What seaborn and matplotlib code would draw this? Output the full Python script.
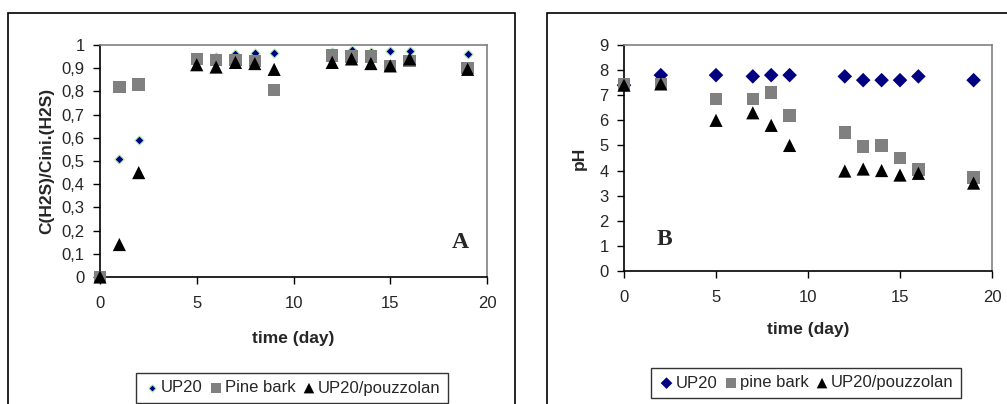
import matplotlib
matplotlib.use("Agg")
import matplotlib.pyplot as plt
import seaborn as sns
import pandas as pd
from matplotlib.patches import Rectangle
from matplotlib.ticker import FuncFormatter, MultipleLocator

sns.set_style("white")
plt.rcParams['font.family'] = ['Liberation Sans', 'DejaVu Sans']

# ---- Data panel A ----
time_a = [0, 1, 2, 5, 6, 7, 8, 9, 12, 13, 14, 15, 16, 19]
up20_a = [0, 0.51, 0.59, 0.94, 0.95, 0.96, 0.965, 0.965, 0.97, 0.98, 0.97, 0.975, 0.975, 0.96]
pine_a = [0, 0.82, 0.83, 0.94, 0.935, 0.935, 0.93, 0.805, 0.955, 0.95, 0.95, 0.91, 0.93, 0.90]
pouz_a = [0, 0.14, 0.45, 0.915, 0.905, 0.925, 0.92, 0.895, 0.925, 0.94, 0.92, 0.91, 0.94, 0.895]

# ---- Data panel B ----
time_b = [0, 2, 5, 7, 8, 9, 12, 13, 14, 15, 16, 19]
up20_b = [7.4, 7.8, 7.8, 7.75, 7.8, 7.8, 7.75, 7.6, 7.6, 7.6, 7.75, 7.6]
pine_b = [7.45, 7.45, 6.85, 6.85, 7.1, 6.2, 5.52, 4.95, 5.0, 4.5, 4.05, 3.72]
pouz_b = [7.4, 7.45, 6.0, 6.3, 5.8, 5.0, 3.98, 4.06, 4.0, 3.82, 3.89, 3.5]

labels_a = ["UP20", "Pine bark", "UP20/pouzzolan"]
labels_b = ["UP20", "pine bark", "UP20/pouzzolan"]

W, H = 1007, 404
fig = plt.figure(figsize=(W / 100, H / 100), dpi=100)

# outer frames
fig.patches.append(Rectangle((8 / W, -0.1), (515 - 8) / W, 1.1 - 13 / H,
                             transform=fig.transFigure, fill=False, edgecolor='black', lw=1.2))
fig.patches.append(Rectangle((547 / W, -0.1), (1007 - 547 + 20) / W, 1.1 - 13 / H,
                             transform=fig.transFigure, fill=False, edgecolor='black', lw=1.2))


def px_axes(x0, x1, y0, y1):
    return fig.add_axes([x0 / W, (H - y1) / H, (x1 - x0) / W, (y1 - y0) / H])


axA = px_axes(100, 487, 45, 277)
axB = px_axes(624, 992, 45, 271)

navy = '#000080'
grey = '#808080'


def style_axes(ax):
    for s in ['top', 'right']:
        ax.spines[s].set_color(grey)
        ax.spines[s].set_linewidth(1.2)
    for s in ['left', 'bottom']:
        ax.spines[s].set_color('black')
        ax.spines[s].set_linewidth(1.2)
    ax.tick_params(axis='both', direction='out', length=5, width=1, color='black',
                   labelsize=12, left=True, bottom=True)
    ax.tick_params(axis='x', pad=9)
    ax.tick_params(axis='y', pad=6)
    ax.set_facecolor('white')


# Panel A
dfA = pd.DataFrame({'t': time_a, 'up': up20_a, 'pine': pine_a, 'pz': pouz_a})
sns.scatterplot(data=dfA, x='t', y='up', ax=axA, marker='D', s=22, color=navy,
                edgecolor='#b0f0b0', linewidth=0.8, label=labels_a[0], clip_on=False, zorder=3)
sns.scatterplot(data=dfA, x='t', y='pine', ax=axA, marker='s', s=80, color=grey,
                edgecolor='none', label=labels_a[1], clip_on=False, zorder=4)
sns.scatterplot(data=dfA, x='t', y='pz', ax=axA, marker='^', s=90, color='black',
                edgecolor='none', label=labels_a[2], clip_on=False, zorder=5)
axA.set_xlim(0, 20)
axA.set_ylim(0, 1)
axA.xaxis.set_major_locator(MultipleLocator(5))
axA.yaxis.set_major_locator(MultipleLocator(0.1))
axA.yaxis.set_major_formatter(FuncFormatter(
    lambda v, p: '0' if abs(v) < 1e-9 else ('1' if abs(v - 1) < 1e-9 else f"{v:.1f}".replace('.', ','))))
axA.set_xlabel('time (day)', fontsize=12.5, fontweight='bold', labelpad=14)
axA.set_ylabel('C(H2S)/Cini.(H2S)', fontsize=12.5, fontweight='bold', labelpad=5)
style_axes(axA)
axA.text(0.93, 0.15, 'A', transform=axA.transAxes, fontsize=17, fontweight='bold',
         family='Liberation Serif', ha='center', va='center')
hA, lA = axA.get_legend_handles_labels()
axA.get_legend().remove()

# Panel B
dfB = pd.DataFrame({'t': time_b, 'up': up20_b, 'pine': pine_b, 'pz': pouz_b})
sns.scatterplot(data=dfB, x='t', y='up', ax=axB, marker='D', s=55, color=navy,
                edgecolor='none', label=labels_b[0], clip_on=False, zorder=3)
sns.scatterplot(data=dfB, x='t', y='pine', ax=axB, marker='s', s=80, color=grey,
                edgecolor='none', label=labels_b[1], clip_on=False, zorder=4)
sns.scatterplot(data=dfB, x='t', y='pz', ax=axB, marker='^', s=90, color='black',
                edgecolor='none', label=labels_b[2], clip_on=False, zorder=5)
axB.set_xlim(0, 20)
axB.set_ylim(0, 9)
axB.xaxis.set_major_locator(MultipleLocator(5))
axB.yaxis.set_major_locator(MultipleLocator(1))
axB.set_xlabel('time (day)', fontsize=12.5, fontweight='bold', labelpad=12)
axB.set_ylabel('pH', fontsize=12.5, fontweight='bold', labelpad=9)
style_axes(axB)
axB.text(0.11, 0.14, 'B', transform=axB.transAxes, fontsize=17, fontweight='bold',
         family='Liberation Serif', ha='center', va='center')
hB, lB = axB.get_legend_handles_labels()
axB.get_legend().remove()

legkw = dict(ncol=3, fontsize=12, frameon=True, fancybox=False, edgecolor='black',
             handletextpad=0.05, columnspacing=0.3, handlelength=1.0, borderpad=0.45,
             borderaxespad=0, markerscale=0.8)
legA = fig.legend(hA, lA, loc='upper center', bbox_to_anchor=(292 / W, (H - 373) / H), **legkw)
legB = fig.legend(hB, lB, loc='upper center', bbox_to_anchor=(806 / W, (H - 368) / H), **legkw)
for leg in (legA, legB):
    leg.get_frame().set_linewidth(1.0)

fig.savefig('out.png', dpi=100)
